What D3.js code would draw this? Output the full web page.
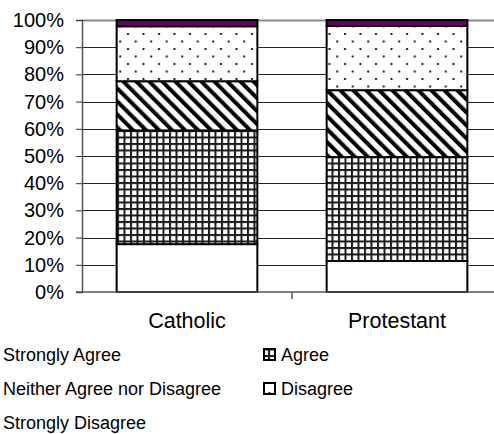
<!DOCTYPE html>
<html>
<head>
<meta charset="utf-8">
<script src="https://d3js.org/d3.v7.min.js"></script>
<style>
  body { margin: 0; background: #fff; }
  text { font-family: "Liberation Sans", Arial, sans-serif; fill: #000; }
</style>
</head>
<body>
<div id="chart"></div>
<script>
// values (percent of respondents)
var categories = ["Catholic", "Protestant"];
var seriesNames = ["Strongly Agree", "Agree", "Neither Agree nor Disagree", "Disagree", "Strongly Disagree"];
var stronglyAgree = [17.6, 11.4];
var agree = [41.8, 38.2];
var neither = [18.1, 24.6];
var disagree = [20.2, 23.6];
var stronglyDisagree = [2.3, 2.2];
var yTicks = [0, 10, 20, 30, 40, 50, 60, 70, 80, 90, 100];

var seriesValues = [stronglyAgree, agree, neither, disagree, stronglyDisagree];
var fills = ["#fff", "url(#grid)", "url(#diag)", "url(#dots)", "#660066"];

var width = 494, height = 434;
var margin = {top: 20, left: 82};
var innerHeight = 272;

var svg = d3.select("#chart").append("svg")
  .attr("width", width)
  .attr("height", height);

// fill patterns like the old spreadsheet ones
var defs = svg.append("defs");

var grid = defs.append("pattern")
  .attr("id", "grid")
  .attr("patternUnits", "userSpaceOnUse")
  .attr("width", 6.5).attr("height", 6.5);
grid.append("rect").attr("width", 6.5).attr("height", 6.5).attr("fill", "#fff");
grid.append("rect").attr("x", 0).attr("y", 0).attr("width", 2).attr("height", 6.5).attr("fill", "#1a1a1a");
grid.append("rect").attr("x", 0).attr("y", 0).attr("width", 6.5).attr("height", 2).attr("fill", "#1a1a1a");

var diag = defs.append("pattern")
  .attr("id", "diag")
  .attr("patternUnits", "userSpaceOnUse")
  .attr("width", 9.2).attr("height", 9.2)
  .attr("patternTransform", "rotate(-45)");
diag.append("rect").attr("width", 9.2).attr("height", 9.2).attr("fill", "#fff");
diag.append("rect").attr("x", 0).attr("y", 0).attr("width", 4).attr("height", 9.2).attr("fill", "#000");

var dots = defs.append("pattern")
  .attr("id", "dots")
  .attr("patternUnits", "userSpaceOnUse")
  .attr("width", 15.5).attr("height", 15);
dots.append("rect").attr("width", 15.5).attr("height", 15).attr("fill", "#fff");
dots.append("rect").attr("x", 3).attr("y", 3).attr("width", 2).attr("height", 2).attr("fill", "#222");
dots.append("rect").attr("x", 10.75).attr("y", 10.5).attr("width", 2).attr("height", 2).attr("fill", "#222");

var x = d3.scaleBand()
  .domain(categories)
  .range([margin.left, margin.left + 420])
  .paddingInner(0.33)
  .paddingOuter(0.165);

var y = d3.scaleLinear()
  .domain([0, 100])
  .range([margin.top + innerHeight, margin.top]);

// gridlines
svg.append("g")
  .selectAll("line")
  .data(yTicks.slice(1))
  .enter().append("line")
  .attr("x1", margin.left)
  .attr("x2", width)
  .attr("y1", d => Math.round(y(d)) + 0.5)
  .attr("y2", d => Math.round(y(d)) + 0.5)
  .attr("stroke", d => d == 100 ? "#888" : "#222")
  .attr("stroke-width", d => d == 100 ? 2 : 1);

// stacked bars
var stackData = categories.map((c, i) => {
  var row = {cat: c};
  seriesNames.forEach((s, j) => { row[s] = seriesValues[j][i]; });
  return row;
});
var stacked = d3.stack().keys(seriesNames)(stackData);

svg.append("g")
  .selectAll("g")
  .data(stacked)
  .enter().append("g")
  .attr("fill", (d, i) => fills[i])
  .selectAll("rect")
  .data(d => d)
  .enter().append("rect")
  .attr("x", d => x(d.data.cat))
  .attr("y", d => y(d[1]))
  .attr("width", x.bandwidth())
  .attr("height", d => y(d[0]) - y(d[1]))
  .attr("stroke", "#000")
  .attr("stroke-width", 2);

// y axis
var yAxis = svg.append("g")
  .attr("transform", "translate(" + margin.left + ",0)")
  .call(d3.axisLeft(y).tickValues(yTicks).tickFormat(d => d + "%").tickSize(6).tickPadding(12));
yAxis.select(".domain").attr("stroke", "#555").attr("stroke-width", 1.5);
yAxis.selectAll(".tick line").attr("stroke", "#333");
yAxis.selectAll("text").attr("font-size", 20).attr("fill", "#000")
  .style("font-family", "'Liberation Sans', Arial, sans-serif");

// x axis
var xAxisY = margin.top + innerHeight;
svg.append("line")
  .attr("x1", margin.left - 6).attr("x2", width)
  .attr("y1", xAxisY).attr("y2", xAxisY)
  .attr("stroke", "#555").attr("stroke-width", 1.5);
svg.append("line")
  .attr("x1", margin.left + 210).attr("x2", margin.left + 210)
  .attr("y1", xAxisY).attr("y2", xAxisY + 7)
  .attr("stroke", "#555").attr("stroke-width", 1.5);

svg.append("g")
  .selectAll("text")
  .data(categories)
  .enter().append("text")
  .attr("x", d => x(d) + x.bandwidth() / 2)
  .attr("y", xAxisY + 36)
  .attr("text-anchor", "middle")
  .attr("font-size", 21.5)
  .text(d => d);

// legend, two columns; the left column's keys fall outside the picture
var legend = svg.append("g")
  .selectAll("g")
  .data(seriesNames)
  .enter().append("g")
  .attr("transform", (d, i) => "translate(" + (i % 2 == 0 ? 3 : 281) + "," + (355 + Math.floor(i / 2) * 34) + ")");

legend.append("rect")
  .attr("x", -17)
  .attr("y", -6)
  .attr("width", 11)
  .attr("height", 11)
  .attr("fill", (d, i) => fills[i])
  .attr("stroke", "#000")
  .attr("stroke-width", 2);

legend.append("text")
  .attr("x", 0)
  .attr("y", 0)
  .attr("dy", "0.35em")
  .attr("font-size", 18)
  .text(d => d);
</script>
</body>
</html>
